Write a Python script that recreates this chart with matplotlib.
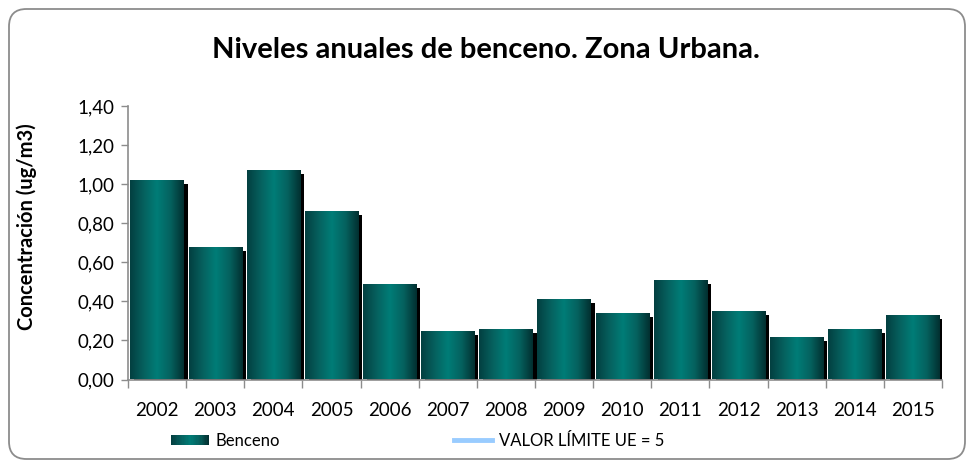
import numpy as np
import matplotlib
matplotlib.use("Agg")
import matplotlib.pyplot as plt
from matplotlib.patches import FancyBboxPatch, Rectangle
from matplotlib.lines import Line2D
from matplotlib.legend_handler import HandlerBase
from matplotlib.colors import LinearSegmentedColormap
import matplotlib.transforms as mtransforms

years = ["2002", "2003", "2004", "2005", "2006", "2007", "2008",
         "2009", "2010", "2011", "2012", "2013", "2014", "2015"]
benceno = [1.02, 0.68, 1.07, 0.86, 0.49, 0.25, 0.26,
           0.41, 0.34, 0.51, 0.35, 0.22, 0.26, 0.33]
limite_label = "VALOR LÍMITE UE = 5"
title = "Niveles anuales de benceno. Zona Urbana."
ylabel = "Concentración (ug/m3)"
yticks = [0.0, 0.2, 0.4, 0.6, 0.8, 1.0, 1.2, 1.4]

plt.rcParams['font.family'] = ['Lato', 'DejaVu Sans']

grad = LinearSegmentedColormap.from_list(
    "teal", ["#033f40", "#06605e", "#007d77", "#05625f", "#022f30"])

fig = plt.figure(figsize=(9.71, 4.61), dpi=100)
# rounded border
border = FancyBboxPatch((9/971, 2/461), 956/971, 450/461,
                        boxstyle="round,pad=0,rounding_size=0.018",
                        transform=fig.transFigure, facecolor="none",
                        edgecolor="#8c8c8c", linewidth=1.3, mutation_aspect=971/461,
                        zorder=-10)
fig.patches.append(border)

ax = fig.add_axes([128/971, 1 - 379.5/461, (942 - 128)/971, (379.5 - 106)/461])
ax.set_facecolor("none")
x = np.arange(len(years))
width = 0.915

# shadows
shadow_tr = mtransforms.offset_copy(ax.transData, fig=fig, x=4, y=-4, units="dots")
ax.bar(x, benceno, width=width, color="black", transform=shadow_tr, zorder=1)
bars = ax.bar(x, benceno, width=width, color="none", zorder=2)
gimg = np.linspace(0, 1, 256).reshape(1, -1)
for b in bars:
    x0, y0 = b.get_x(), b.get_y()
    w, h = b.get_width(), b.get_height()
    im = ax.imshow(gimg, cmap=grad, aspect="auto", extent=[x0, x0 + w, y0, y0 + h],
                   zorder=2, interpolation="bilinear")
    im.set_clip_path(b)

ax.set_xlim(-0.5, len(years) - 0.5)
ax.set_ylim(0, 1.4)
ax.set_yticks(yticks)
ax.set_yticklabels([f"{v:.2f}".replace(".", ",") for v in yticks], fontsize=13.5)
ax.set_xticks(x)
ax.set_xticklabels(years, fontsize=13.5)
ax.set_xticks(np.arange(len(years) + 1) - 0.5, minor=True)
ax.tick_params(axis="x", which="major", length=0, pad=16)
ax.tick_params(axis="x", which="minor", length=6, color="#8c8c8c", width=1)
ax.tick_params(axis="y", length=5, color="#8c8c8c", width=1, pad=5)
for s in ["top", "right"]:
    ax.spines[s].set_visible(False)
for s in ["left", "bottom"]:
    ax.spines[s].set_color("#8c8c8c")
    ax.spines[s].set_linewidth(1.2)
ax.set_ylabel(ylabel, fontsize=14.5, fontweight="bold", va="center")
ax.yaxis.set_label_coords(-0.124, 0.56)

fig.text(0.5, 1 - 50/461, title, ha="center", va="center", fontsize=21, fontweight="bold")


class GradHandler(HandlerBase):
    def create_artists(self, legend, orig_handle, xdescent, ydescent, width, height, fontsize, trans):
        n = 30
        arts = []
        h = height * 0.9
        for i in range(n):
            r = Rectangle((-xdescent + width * i / n, -ydescent + (height - h) / 2),
                          width / n * 1.05, h,
                          facecolor=grad(i / (n - 1)), edgecolor="none", transform=trans)
            arts.append(r)
        return arts


h1 = Rectangle((0, 0), 1, 1)
h2 = Line2D([0], [0], color="#99ccff", linewidth=3.5)
leg = fig.legend([h1, h2], ["Benceno", limite_label], handler_map={Rectangle: GradHandler()},
                 loc="center", bbox_to_anchor=(0.430, 1 - 441/461), ncol=2, frameon=False,
                 fontsize=12, handlelength=2.3, handletextpad=0.4, columnspacing=10.4)

fig.savefig("out.png", dpi=100)
